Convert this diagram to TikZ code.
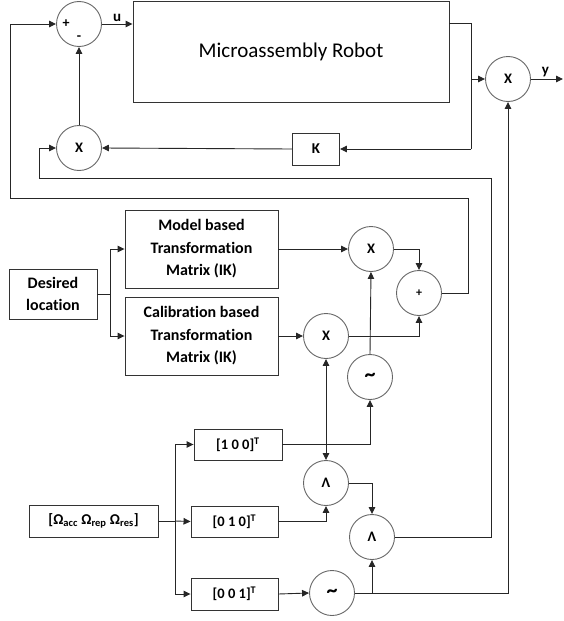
\documentclass[tikz,border=0pt]{standalone}
\usepackage{fontspec}
\setmainfont{Carlito}[Ligatures=NoCommon]
\usetikzlibrary{arrows.meta}
\tikzset{
  wire/.style={draw=black!85, line width=0.9pt},
  arr/.style={wire, -{Triangle[length=7pt,width=6.5pt]}},
  blk/.style={draw=black!80, line width=0.9pt, rectangle, inner sep=0pt},
  circ/.style={draw=black!60, line width=0.9pt, circle, minimum size=45pt, inner sep=0pt, font=\fontsize{14.5}{16}\selectfont\bfseries},
  lbl/.style={font=\fontsize{16}{22.5}\selectfont\bfseries, align=center},
  vec/.style={font=\fontsize{14.5}{16}\selectfont\bfseries},
  sig/.style={font=\fontsize{15}{16}\selectfont\bfseries},
  tld/.style={circ, font=\fontsize{22}{22}\selectfont\bfseries},
}
\begin{document}
\begin{tikzpicture}[x=1pt,y=-1pt]
\useasboundingbox (0,0) rectangle (564,621);

% plant and output stage
\node[circ] (sumA) at (79,24) {};
\node[font=\fontsize{14}{14}\selectfont\bfseries] (plusA) at (66,24) {+};
\node[font=\fontsize{14}{14}\selectfont\bfseries] (minusA) at (79,38) {-};
\node[blk, minimum width=316pt, minimum height=101pt, font=\fontsize{21}{24}\selectfont] (robot) at (291,51.5) {Microassembly Robot};
\node[circ] (xOut) at (508,79) {X};
\node[circ] (mulK) at (79,148) {X};
\node[blk, minimum width=47pt, minimum height=32pt, sig] (K) at (316,149) {K};

% transformation paths
\node[blk, minimum width=88pt, minimum height=50pt, lbl] (desired) at (53,294) {Desired\\location};
\node[blk, minimum width=153pt, minimum height=78pt, lbl] (model) at (201.5,249) {Model based\\Transformation\\Matrix (IK)};
\node[blk, minimum width=153pt, minimum height=78pt, lbl] (calib) at (201.5,336) {Calibration based\\Transformation\\Matrix (IK)};
\node[circ] (xM) at (371,249) {X};
\node[circ] (xC) at (326,336) {X};
\node[circ, font=\fontsize{12}{12}\selectfont\bfseries] (sumB) at (419,293) {+};
\node[tld] (notA) at (370,377) {\textasciitilde};

% selector logic
\node[blk, minimum width=129pt, minimum height=32pt, font=\fontsize{15}{16}\selectfont\bfseries] (omega) at (93.5,521) {[Ω\textsubscript{acc} Ω\textsubscript{rep} Ω\textsubscript{res}]};
\node[blk, minimum width=88pt, minimum height=31pt, vec] (e1) at (238,444.5) {[1 0 0]\textsuperscript{T}};
\node[blk, minimum width=87pt, minimum height=31pt, vec] (e2) at (234.5,521.5) {[0 1 0]\textsuperscript{T}};
\node[blk, minimum width=87pt, minimum height=32pt, vec] (e3) at (234.5,594) {[0 0 1]\textsuperscript{T}};
\node[circ] (andA) at (326,483) {Λ};
\node[circ] (andB) at (372,537) {Λ};
\node[tld] (notB) at (332,593) {\textasciitilde};

% routing points
\coordinate (tapR) at (471,23);
\coordinate (tapK) at (471,149);
\coordinate (yEnd) at (563,79);
\coordinate (fbA1) at (468,198);
\coordinate (fbA2) at (10,198);
\coordinate (fbB1) at (491,178);
\coordinate (fbB2) at (39,178);
\coordinate (splitD) at (110,294);
\coordinate (splitO) at (175,521);
\coordinate (j1) at (326,444.5);
\coordinate (j2) at (372,593);

% forward path
\draw[arr] (sumA.east) -- (robot.west |- sumA) node[midway, above=-1pt, sig] (uLab) {u};
\draw[wire] (robot.east |- tapR) -- (tapR) -- (tapK);
\draw[arr] (tapR |- xOut) -- (xOut.west);
\draw[arr] (xOut.east) -- (yEnd) node[pos=0.45, above=-2pt, sig] (yLab) {y};
\draw[arr] (tapK) -- (K.east);
\draw[arr] (K.west) -- (mulK.east);
\draw[arr] (mulK.north) -- (sumA.south);

% feedback lines
\draw[arr] (sumB.east) -| (fbA1) -- (fbA2) |- (sumA.west);
\draw[arr] (andB.east) -| (fbB1) -- (fbB2) |- (mulK.west);

% transformation branch
\draw[wire] (desired.east) -- (splitD);
\draw[arr] (splitD) |- (model.west);
\draw[arr] (splitD) |- (calib.west);
\draw[arr] (model.east) -- (xM.west);
\draw[arr] (calib.east) -- (xC.west);
\draw[arr] (xM.east) -| (sumB.north);
\draw[arr] (xC.east) -| (sumB.south);
\draw[arr] (notA.north) -- (xM.south);

% selector branch
\draw[wire] (omega.east) -- (splitO);
\draw[arr] (splitO) |- (e1.west);
\draw[arr] (splitO) -- (e2.west);
\draw[arr] (splitO) |- (e3.west);
\draw[arr] (e1.east) -| (notA.south);
\draw[arr] (j1) -- (xC.south);
\draw[arr] (j1) -- (andA.north);
\draw[arr] (e2.east) -| (andA.south);
\draw[arr] (andA.east) -| (andB.north);
\draw[arr] (e3.east) -- (notB.west);
\draw[arr] (notB.east) -| (xOut.south);
\draw[arr] (j2) -- (andB.south);
\end{tikzpicture}
\end{document}
